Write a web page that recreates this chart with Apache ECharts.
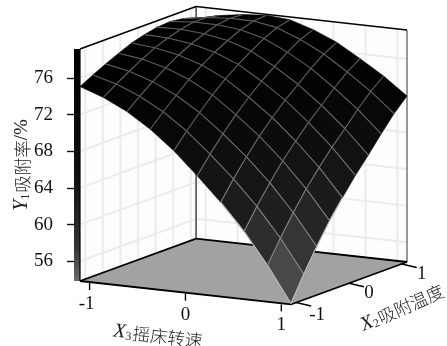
<!DOCTYPE html>
<html><head><meta charset="utf-8">
<style>html,body{margin:0;padding:0;background:#fff}#c{width:447px;height:346px}</style>
<script src="https://cdn.jsdelivr.net/npm/echarts@6/dist/echarts.min.js"></script>
</head><body><div id="c"></div>
<script>
// surface node positions (coded factors) and response values
var x3Nodes = [-1.1,-0.856,-0.611,-0.367,-0.122,0.122,0.367,0.611,0.856,1.1];
var x2Nodes = [-1.1,-0.856,-0.611,-0.367,-0.122,0.122,0.367,0.611,0.856,1.1];
var yieldRows = [
 [75.05,74.15,72.90,71.25,69.20,66.75,64.15,61.25,57.85,53.95],
 [75.80,75.10,74.06,72.65,70.83,68.59,66.18,63.47,60.30,56.65],
 [76.50,75.98,75.13,73.93,72.33,70.30,68.07,65.53,62.57,59.15],
 [77.15,76.79,76.12,75.13,73.74,71.87,69.81,67.41,64.64,61.45],
 [77.75,77.52,77.01,76.19,74.97,73.25,71.33,69.05,66.46,63.45],
 [78.15,78.06,77.72,77.08,76.04,74.49,72.71,70.57,68.16,65.35],
 [78.45,78.50,78.30,77.84,76.97,75.58,73.92,71.92,69.67,67.05],
 [78.55,78.77,78.76,78.50,77.83,76.63,75.14,73.29,71.25,68.85],
 [78.35,78.76,78.95,78.93,78.50,77.49,76.20,74.52,72.69,70.55],
 [77.85,78.45,78.85,79.05,78.85,78.05,76.95,75.45,73.85,71.95]
];
var zTicks = [56,60,64,68,72,76];
var x3Ticks = [-1,0,1];
var x2Ticks = [-1,0,1];
var wallTicks = [-1,-0.667,-0.333,0,0.333,0.667,1];
var zMin = 53.85, zMax = 79.15, factorMax = 1.1;

// oblique view: each factor shifts the point across and up/down the plot
function project(api, x3, x2, z) {
  var s = (x3 + factorMax) / (2 * factorMax), t = (x2 + factorMax) / (2 * factorMax);
  return api.coord([0.645 * s + 0.355 * t, z - 2.56 * s + 4.63 * t]);
}
var shadeStops = [[0,0x50],[3,0x4a],[5,0x3c],[7,0x2c],[9,0x1f],[11,0x18],[14,0x10],[17,0x08],[20,0x02],[22,0]];
function shade(z) {
  var h = z - zMin;
  for (var k = 1; k < shadeStops.length; k++) {
    if (h <= shadeStops[k][0]) {
      var a = shadeStops[k-1], b = shadeStops[k];
      var g = Math.round(a[1] + (b[1]-a[1]) * (h-a[0]) / (b[0]-a[0]));
      return 'rgb('+g+','+g+','+g+')';
    }
  }
  return '#000';
}
function ln(p, q, color, w) {
  return {type:'line', shape:{x1:p[0],y1:p[1],x2:q[0],y2:q[1]}, style:{stroke:color, lineWidth:w, fill:null}};
}
function renderBox(params, api) {
  var lo = -factorMax, hi = factorMax, ch = [];
  function P(a,b,z){return project(api,a,b,z);}
  var top = P(lo,lo,zMax), bot = P(lo,lo,zMin);
  ch.push({type:'rect',shape:{x:top[0]-6,y:top[1],width:6,height:bot[1]-top[1]},
    style:{fill:{type:'linear',x:0,y:0,x2:0,y2:1,colorStops:[{offset:0,color:'#000'},{offset:0.55,color:'#111'},{offset:0.85,color:'#333'},{offset:1,color:'#6a6a6a'}]}}});
  ch.push({type:'polygon',shape:{points:[P(lo,lo,zMin),P(lo,lo,zMax),P(lo,hi,zMax),P(lo,hi,zMin)]},style:{fill:'#fdfdfd'}});
  ch.push({type:'polygon',shape:{points:[P(lo,hi,zMin),P(lo,hi,zMax),P(hi,hi,zMax),P(hi,hi,zMin)]},style:{fill:'#fdfdfd'}});
  var gc = '#ebebeb';
  zTicks.forEach(function(z){
    ch.push(ln(P(lo,lo,z),P(lo,hi,z),gc,2));
    ch.push(ln(P(lo,hi,z),P(hi,hi,z),gc,2));
  });
  wallTicks.forEach(function(w){
    ch.push(ln(P(lo,w,zMin),P(lo,w,zMax),gc,2));
    ch.push(ln(P(w,hi,zMin),P(w,hi,zMax),gc,2));
  });
  ch.push({type:'polygon',shape:{points:[P(lo,lo,zMin),P(hi,lo,zMin),P(hi,hi,zMin),P(lo,hi,zMin)]},style:{fill:'#a2a2a2'}});
  ch.push(ln(P(lo,hi,zMin),P(lo,hi,zMax),'#444',1.5));
  ch.push(ln(P(hi,hi,zMin),P(hi,hi,zMax),'#333',1));
  ch.push(ln(P(lo,lo,zMin),P(lo,lo,zMax),'#000',1.2));
  ch.push(ln(P(lo,lo,zMax),P(lo,hi,zMax),'#000',1.6));
  ch.push(ln(P(lo,hi,zMax),P(hi,hi,zMax),'#000',1.4));
  ch.push(ln(P(lo,lo,zMin),P(lo,hi,zMin),'#000',1.8));
  ch.push(ln(P(lo,hi,zMin),P(hi,hi,zMin),'#000',1.8));
  ch.push(ln(P(lo,lo,zMin),P(hi,lo,zMin),'#000',1.8));
  ch.push(ln(P(hi,lo,zMin),P(hi,hi,zMin),'#000',1.8));
  return {type:'group',children:ch};
}
function nodeP(api,i,j){return project(api,x3Nodes[i],x2Nodes[j],yieldRows[j][i]);}
var cells = [], nodes = [];
for (var j = x2Nodes.length - 2; j >= 0; j--) for (var i = 0; i < x3Nodes.length - 1; i++) cells.push([i,j]);
for (var jj = 0; jj < x2Nodes.length; jj++) for (var ii = 0; ii < x3Nodes.length; ii++) nodes.push([ii,jj]);
function renderCell(params, api) {
  var i = api.value(0), j = api.value(1);
  var avg = (yieldRows[j][i]+yieldRows[j][i+1]+yieldRows[j+1][i]+yieldRows[j+1][i+1])/4;
  var c = shade(avg);
  return {type:'polygon',shape:{points:[nodeP(api,i,j),nodeP(api,i+1,j),nodeP(api,i+1,j+1),nodeP(api,i,j+1)]},
    style:{fill:c,stroke:c,lineWidth:0.6}};
}
function meshColor(z, outer) {
  var h = z - zMin;
  if (outer) return h < 9 ? '#c4c4c4' : null;
  var g = Math.round(h < 8 ? 135 : (h > 18 ? 95 : 135 - (h-8)*4));
  return 'rgb('+g+','+g+','+g+')';
}
function renderMesh(params, api) {
  var i = api.value(0), j = api.value(1), ch = [], n = x3Nodes.length - 1;
  if (i < n) {
    var z1 = (yieldRows[j][i]+yieldRows[j][i+1])/2;
    var outer1 = (j === 0 || j === n);
    var c1 = meshColor(z1, outer1);
    if (c1) ch.push(ln(nodeP(api,i,j),nodeP(api,i+1,j),c1,1.1));
  }
  if (j < n) {
    var z2 = (yieldRows[j][i]+yieldRows[j+1][i])/2;
    var outer2 = (i === 0 || i === n);
    var c2 = meshColor(z2, outer2);
    if (c2) ch.push(ln(nodeP(api,i,j),nodeP(api,i,j+1),c2,1.1));
  }
  return {type:'group',children:ch};
}
var numFont = 'Liberation Serif';
function tickText(p, s) {
  return {type:'text',x:p[0],y:p[1],style:{text:s,fontFamily:numFont,fontSize:19,fill:'#111',align:'center',verticalAlign:'middle'}};
}
function renderX3Tick(params, api) {
  var v = api.value(0), p = project(api,v,-factorMax,zMin);
  return {type:'group',children:[
    ln([p[0],p[1]+1],[p[0],p[1]+8],'#000',1.4),
    tickText([p[0]-(v<0?3:0),p[1]+22],String(v))
  ]};
}
function renderX2Tick(params, api) {
  var v = api.value(0), p = project(api,factorMax,v,zMin);
  return {type:'group',children:[
    ln(p,[p[0]+15,p[1]+3.5],'#000',1.4),
    tickText([p[0]+(v<0?21:20),p[1]+(v<0?12:10)],String(v))
  ]};
}
function axisTitle(x,y,rot,parts){
  return {type:'text',x:x,y:y,rotation:rot,silent:true,style:{
    text:parts,align:'center',verticalAlign:'middle',
    fontFamily:'Noto Sans CJK SC',fontSize:17,fill:'#222',
    rich:{
      v:{fontFamily:'Liberation Serif',fontStyle:'italic',fontSize:20,fill:'#222',verticalAlign:'middle',lineHeight:20},
      s:{fontFamily:'Liberation Serif',fontSize:12,fill:'#222',verticalAlign:'bottom',lineHeight:20,padding:[8,1,0,0]},
      c:{fontFamily:'Noto Sans CJK SC',fontWeight:300,fontSize:17.5,fill:'#222',verticalAlign:'middle',lineHeight:20},
      n:{fontFamily:'Liberation Serif',fontSize:19,fill:'#222',verticalAlign:'middle',lineHeight:20}
    }}};
}
var chart = echarts.init(document.getElementById('c'),null,{renderer:'canvas'});
chart.setOption({
  animation:false,
  backgroundColor:'#fff',
  grid:{left:80,top:49,width:327,height:232,containLabel:false},
  xAxis:{type:'value',min:0,max:1,show:false},
  yAxis:{type:'value',min:zMin,max:zMax,offset:5,splitLine:{show:false},
    axisLine:{show:false},
    axisTick:{show:true,length:13,customValues:zTicks,lineStyle:{color:'#111',width:1.4}},
    axisLabel:{show:true,margin:22,customValues:zTicks,fontFamily:'Liberation Serif',fontSize:19,color:'#111',
      formatter:function(v){return String(Math.round(v));}}},
  series:[
    {type:'custom',coordinateSystem:'cartesian2d',silent:true,clip:false,z:3,data:[[0]],renderItem:renderBox},
    {type:'custom',coordinateSystem:'cartesian2d',silent:true,clip:false,z:4,data:cells,renderItem:renderCell,encode:{x:0,y:1}},
    {type:'custom',coordinateSystem:'cartesian2d',silent:true,clip:false,z:5,data:nodes,renderItem:renderMesh,encode:{x:0,y:1}},
    {type:'custom',coordinateSystem:'cartesian2d',silent:true,clip:false,z:6,data:x3Ticks.map(function(v){return [v];}),renderItem:renderX3Tick},
    {type:'custom',coordinateSystem:'cartesian2d',silent:true,clip:false,z:6,data:x2Ticks.map(function(v){return [v];}),renderItem:renderX2Tick}
  ],
  graphic:[
    axisTitle(22,165,Math.PI/2,'{v|Y}{s|1}{c|吸附率}{n|/%}'),
    axisTitle(158,336,-0.11,'{v|X}{s|3}{c|摇床转速}'),
    axisTitle(402,308,0.42,'{v|X}{s|2}{c|吸附温度}')
  ]
});
</script></body></html>
